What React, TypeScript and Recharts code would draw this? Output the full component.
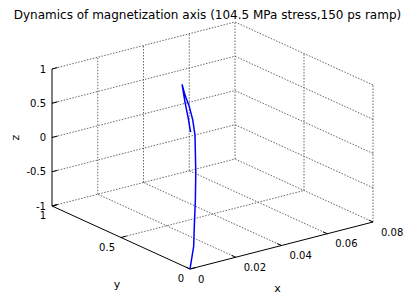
import React from 'react';
import { ComposedChart, XAxis, YAxis, Scatter } from 'recharts';

// ---- data (magnetization components) ----
const mx = [0, 0.0139, 0.0242, 0.0365, 0.0468, 0.0521, 0.0567, 0.0578, 0.0599, 0.0599, 0.0575, 0.0512, 0.0581, 0.0583, 0.0568];
const my = [0, 0.204, 0.37, 0.566, 0.734, 0.824, 0.903, 0.922, 0.973, 0.998, 0.99, 0.906, 1.0, 0.979, 0.937];
const mz = [-1, -0.979, -0.929, -0.824, -0.679, -0.566, -0.431, -0.388, -0.232, -0.061, 0.139, 0.423, 0.026, -0.203, -0.35];

const xTicks = [0, 0.02, 0.04, 0.06, 0.08];
const yTicks = [0, 0.5, 1];
const zTicks = [-1, -0.5, 0, 0.5, 1];
const xTickLabels = ['0', '0.02', '0.04', '0.06', '0.08'];
const yTickLabels = ['0', '0.5', '1'];
const zTickLabels = ['-1', '-0.5', '0', '0.5', '1'];
const TITLE = 'Dynamics of magnetization axis (104.5 MPa stress,150 ps ramp)';

// ---- 3D box layout (projection of the axes box into the plot plane) ----
const W = 415;
const H = 303;
const XR = [0, 0.08];
const YR = [0, 1];
const ZR = [-1, 1];
const ORIGIN = { u: 190, v: 269 };
const AX = { u: 183, v: -47 };
const AY = { u: -138, v: -63 };
const AZ = { u: 0, v: -137 };

function proj(x: number, y: number, z: number) {
  const fx = (x - XR[0]) / (XR[1] - XR[0]);
  const fy = (y - YR[0]) / (YR[1] - YR[0]);
  const fz = (z - ZR[0]) / (ZR[1] - ZR[0]);
  return {
    px: ORIGIN.u + fx * AX.u + fy * AY.u + fz * AZ.u,
    py: ORIGIN.v + fx * AX.v + fy * AY.v + fz * AZ.v,
  };
}

type P3 = [number, number, number];
const seg = (a: P3, b: P3) => [proj(a[0], a[1], a[2]), proj(b[0], b[1], b[2])];

const x0 = XR[0], x1 = XR[1], y0 = YR[0], y1 = YR[1], z0 = ZR[0], z1 = ZR[1];

// grid segments on the three back planes
const gridSegs: any[] = [];
// floor z = z0
xTicks.forEach((x) => { if (x !== x0) gridSegs.push(seg([x, y0, z0], [x, y1, z0])); });
yTicks.forEach((y) => { if (y !== y0) gridSegs.push(seg([x0, y, z0], [x1, y, z0])); });
// wall y = y1
xTicks.forEach((x) => { if (x !== x0) gridSegs.push(seg([x, y1, z0], [x, y1, z1])); });
zTicks.forEach((z) => { if (z !== z0) gridSegs.push(seg([x0, y1, z], [x1, y1, z])); });
// wall x = x1
yTicks.forEach((y) => { if (y !== y1) gridSegs.push(seg([x1, y, z0], [x1, y, z1])); });
zTicks.forEach((z) => { if (z !== z0) gridSegs.push(seg([x1, y0, z], [x1, y1, z])); });

// solid axes
const axisSegs = [
  seg([x0, y0, z0], [x1, y0, z0]),
  seg([x0, y0, z0], [x0, y1, z0]),
  seg([x0, y1, z0], [x0, y1, z1]),
];

// tick marks
const tickSegs: any[] = [];
xTicks.forEach((x) => tickSegs.push(seg([x, y0, z0], [x, y0 + 0.03 * (y1 - y0), z0])));
yTicks.forEach((y) => tickSegs.push(seg([x0, y, z0], [x0 + 0.03 * (x1 - x0), y, z0])));
zTicks.forEach((z) => tickSegs.push(seg([x0, y1, z], [x0 + 0.03 * (x1 - x0), y1, z])));

const curve = mx.map((x, i) => proj(x, my[i], mz[i]));

const xLabelData = xTicks.map((x, i) => ({ ...proj(x, y0, z0), text: xTickLabels[i] }));
const yLabelData = yTicks.map((y, i) => ({ ...proj(x0, y, z0), text: yTickLabels[i] }));
const zLabelData = zTicks.map((z, i) => ({ ...proj(x0, y1, z), text: zTickLabels[i] }));
const axisTitleData = [
  { ...proj((x0 + x1) / 2, y0, z0), text: 'x', dx: -4, dy: 46, rot: 0 },
  { ...proj(x0, (y0 + y1) / 2, z0), text: 'y', dx: -4, dy: 50, rot: 0 },
  { ...proj(x0, y1, (z0 + z1) / 2), text: 'z', dx: -33, dy: 0, rot: -90 },
];

const FONT = 'DejaVu Sans';
const Empty = () => <g />;

const mkLabel = (dx: number, dy: number, anchor: string) => (p: any) => (
  <text x={p.cx + dx} y={p.cy + dy} textAnchor={anchor} fontSize={10} fontFamily={FONT} fill="#000">
    {p.payload.text}
  </text>
);

const AxisTitle = (p: any) => {
  const x = p.cx + p.payload.dx;
  const y = p.cy + p.payload.dy;
  return (
    <text
      x={x}
      y={y}
      textAnchor="middle"
      fontSize={11}
      fontFamily={FONT}
      fill="#000"
      transform={p.payload.rot ? `rotate(${p.payload.rot} ${x} ${y})` : undefined}
    >
      {p.payload.text}
    </text>
  );
};

export default function App() {
  return (
    <div style={{ position: 'absolute', left: 0, top: 0, width: W, height: H, background: '#fff' }}>
      <ComposedChart width={W} height={H} margin={{ top: 0, right: 0, bottom: 0, left: 0 }}>
        <XAxis type="number" dataKey="px" domain={[0, W]} hide allowDataOverflow />
        <YAxis type="number" dataKey="py" domain={[0, H]} reversed hide allowDataOverflow />
        {gridSegs.map((s, i) => (
          <Scatter
            key={'g' + i}
            data={s}
            line={{ stroke: '#555', strokeWidth: 0.9, strokeDasharray: '1.5 1.5' }}
            shape={Empty}
            isAnimationActive={false}
          />
        ))}
        {axisSegs.map((s, i) => (
          <Scatter
            key={'a' + i}
            data={s}
            line={{ stroke: '#000', strokeWidth: 1 }}
            shape={Empty}
            isAnimationActive={false}
          />
        ))}
        {tickSegs.map((s, i) => (
          <Scatter
            key={'t' + i}
            data={s}
            line={{ stroke: '#000', strokeWidth: 1 }}
            shape={Empty}
            isAnimationActive={false}
          />
        ))}
        <Scatter
          data={curve}
          line={{ stroke: '#0000ff', strokeWidth: 1.5 }}
          shape={Empty}
          isAnimationActive={false}
        />
        <Scatter data={xLabelData} shape={mkLabel(8, 13.5, 'start')} isAnimationActive={false} />
        <Scatter data={yLabelData} shape={mkLabel(-6, 13, 'end')} isAnimationActive={false} />
        <Scatter data={zLabelData} shape={mkLabel(-6, 3.5, 'end')} isAnimationActive={false} />
        <Scatter data={axisTitleData} shape={AxisTitle} isAnimationActive={false} />
      </ComposedChart>
      <svg width={W} height={30} style={{ position: 'absolute', left: 0, top: 0 }}>
        <text x={W / 2} y={18.5} textAnchor="middle" fontSize={12} fontFamily={FONT} fill="#000">
          {TITLE}
        </text>
      </svg>
    </div>
  );
}
